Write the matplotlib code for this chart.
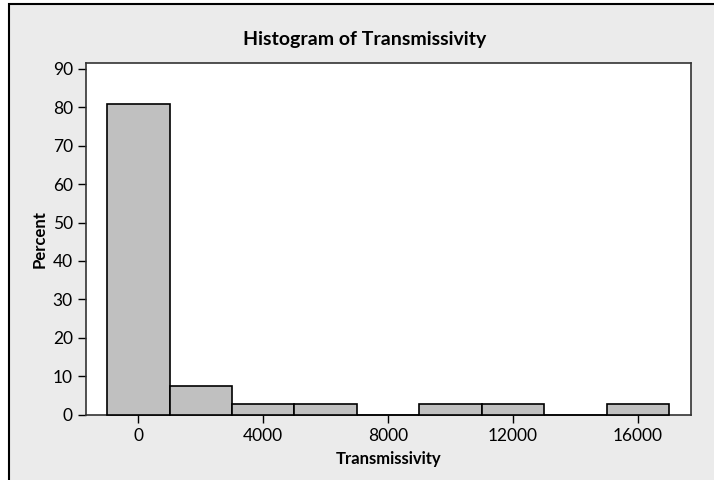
import numpy as np
import matplotlib.pyplot as plt
from matplotlib.patches import Rectangle

# -----------------------------
# Data
# -----------------------------
bin_centers = [0, 2000, 4000, 6000, 8000, 10000, 12000, 14000, 16000]
percent = [80.8, 7.5, 2.7, 2.7, 0.0, 2.7, 2.7, 0.0, 2.7]
bin_width = 2000
x_ticks = [0, 4000, 8000, 12000, 16000]
y_ticks = [0, 10, 20, 30, 40, 50, 60, 70, 80, 90]

plt.rcParams['font.family'] = ['Lato', 'DejaVu Sans']

W, H = 714, 480
fig = plt.figure(figsize=(W / 100, H / 100), dpi=100)
fig.patch.set_facecolor("white")

# gray panel with border on top and left
panel = Rectangle((9 / W, -0.1), 1.2, 1.1 - 4.5 / H, transform=fig.transFigure,
                  facecolor="#ebebeb", edgecolor="black", linewidth=1.5, zorder=-5)
fig.patches.append(panel)

# -----------------------------
# Axes
# -----------------------------
left, right, top, bottom = 86, 690.7, 62.7, 414.7
ax = fig.add_axes([left / W, 1 - bottom / H, (right - left) / W, (bottom - top) / H])
ax.set_zorder(5)
ax.set_facecolor("white")

ax.bar(bin_centers, percent, width=bin_width, color="#c0c0c0",
       edgecolor="black", linewidth=1.2, zorder=3, clip_on=False)

ax.set_xlim(-1674, 17686)
ax.set_ylim(0, 91.6)
ax.set_xticks(x_ticks)
ax.set_yticks(y_ticks)
ax.tick_params(direction="out", length=6, width=1, labelsize=12.5, color="black")

for s in ax.spines.values():
    s.set_color("#333333")
    s.set_linewidth(1.2)

ax.set_xlabel("Transmissivity", fontsize=12, fontweight="bold", labelpad=5)
ax.set_ylabel("Percent", fontsize=12, fontweight="bold", labelpad=4)
fig.text(0.511, 1 - 40 / H, "Histogram of Transmissivity", ha="center", va="center",
         fontsize=14, fontweight="bold", zorder=6)

fig.savefig("out.png", dpi=100)
